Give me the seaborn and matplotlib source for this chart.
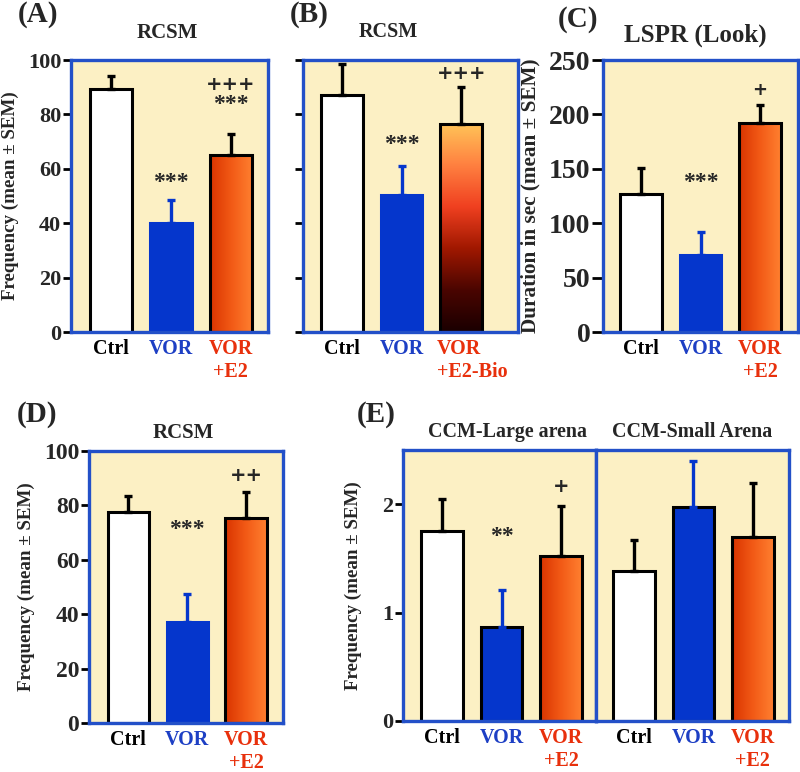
import numpy as np
import pandas as pd
import matplotlib
matplotlib.use("Agg")
import matplotlib.pyplot as plt
import matplotlib.transforms as mtransforms
import seaborn as sns
from matplotlib.colors import LinearSegmentedColormap

# ---------------- data ----------------
groups_e2 = ["Ctrl", "VOR", "VOR\n+E2"]
groups_bio = ["Ctrl", "VOR", "VOR\n+E2-Bio"]

a_mean = [89.5, 40.0, 65.0]
a_sem = [4.5, 8.7, 7.8]
b_mean = [87.0, 50.5, 76.5]
b_sem = [11.5, 10.5, 13.5]
c_mean = [127.0, 71.0, 192.0]
c_sem = [24.0, 21.0, 17.0]
d_mean = [77.4, 37.3, 75.2]
d_sem = [6.0, 10.2, 9.7]
e_large_mean = [1.75, 0.87, 1.52]
e_large_sem = [0.30, 0.34, 0.46]
e_small_mean = [1.38, 1.97, 1.70]
e_small_sem = [0.29, 0.43, 0.50]

ticks_rcsm = [0, 20, 40, 60, 80, 100]
ticks_lspr = [0, 50, 100, 150, 200, 250]
ticks_ccm = [0, 1, 2]

# significance marks: (bar index, y in data units, text)
marks_a = [(1, 55, "***"), (2, 83.5, "***"), (2, 91, "+++")]
marks_b = [(1, 69, "***"), (2, 95, "+++")]
marks_c = [(1, 137, "***"), (2, 222, "+")]
marks_d = [(1, 71, "***"), (2, 91, "++")]
marks_e = [(1, 1.70, "**"), (2, 2.16, "+")]

# ---------------- style ----------------
sns.set_style("white")
plt.rcParams["font.family"] = ["Liberation Serif", "DejaVu Serif"]
plt.rcParams["font.weight"] = "bold"
plt.rcParams["axes.labelweight"] = "bold"

WHITE = "#ffffff"
BLUE = "#0536cc"
ORANGE = "#f05a18"
TXT_BLUE = "#1d3fc4"
TXT_RED = "#e8300c"
SPINE = "#2350c8"
BG = "#fcf0c4"

ORANGE_CMAP = LinearSegmentedColormap.from_list("org", ["#d93400", "#f25a16", "#ff8030"])
BIO_CMAP = LinearSegmentedColormap.from_list(
    "bio", ["#1a0000", "#4a0500", "#a01800", "#f04020", "#ff8040", "#ffc458"])

fig = plt.figure(figsize=(8, 7.72), dpi=100)
W, H = 800, 772


def rect(l, t, r, b):
    return [l / W, 1 - b / H, (r - l) / W, (b - t) / H]


def ftext(x, y, s, **kw):
    fig.text(x / W, 1 - y / H, s, **kw)


def draw(ax, cats, means, sems, ymax, yticks, ylabels, ytick_size,
         vor_edge=False, gradient="h", xlim=(-0.66, 2.62), tick_len=6):
    df = pd.DataFrame({"group": cats, "value": means})
    sns.barplot(data=df, x="group", y="value", hue="group",
                palette=[WHITE, BLUE, ORANGE], legend=False, width=0.7,
                saturation=1, ax=ax, edgecolor="black", linewidth=2.2,
                zorder=2)
    bars = list(ax.patches)
    if not vor_edge:
        bars[1].set_edgecolor(BLUE)
    g = bars[2]
    x0, w, h = g.get_x(), g.get_width(), g.get_height()
    if gradient == "h":
        arr, cmap = np.linspace(0, 1, 256)[None, :], ORANGE_CMAP
    else:
        arr, cmap = np.linspace(0, 1, 256)[:, None], BIO_CMAP
    im = ax.imshow(arr, cmap=cmap, extent=[x0, x0 + w, 0, h], origin="lower",
                   aspect="auto", zorder=1.9, interpolation="bicubic")
    im.set_clip_path(g)
    g.set_facecolor("none")

    err_colors = ["black", BLUE, "black"]
    for i, bar in enumerate(bars):
        cx = bar.get_x() + bar.get_width() / 2
        ax.errorbar([cx], [bar.get_height()], yerr=[[0], [sems[i]]],
                    fmt="none", ecolor=err_colors[i], elinewidth=2.4,
                    capsize=3, capthick=2.4, zorder=3)

    ax.set_xlim(*xlim)
    ax.set_ylim(0, ymax)
    ax.set_facecolor(BG)
    for s in ax.spines.values():
        s.set_visible(True)
        s.set_color(SPINE)
        s.set_linewidth(2.4)
    ax.set_xlabel("")
    ax.set_ylabel("")
    ax.tick_params(axis="x", length=0, pad=5, labelsize=14.5)
    ax.set_yticks(yticks)
    ax.tick_params(axis="y", direction="out", length=tick_len, width=2,
                   color="black", labelsize=ytick_size, pad=1, left=True)
    if not ylabels:
        ax.set_yticklabels([])
    for lbl, c in zip(ax.get_xticklabels(), ["black", TXT_BLUE, TXT_RED]):
        lbl.set_color(c)
        lbl.set_fontweight("bold")
    for lbl in ax.get_yticklabels():
        lbl.set_fontweight("bold")


def marks(ax, items, size_star=17, size_plus=14):
    for i, y, t in items:
        if "*" in t:
            ax.text(i, y, t, ha="center", va="center", fontweight="bold",
                    fontsize=size_star, zorder=4)
        else:
            ax.text(i, y, t, ha="center", va="center", fontweight="bold",
                    fontsize=size_plus, family="DejaVu Sans", zorder=4)


# ---- Panel A ----
axA = fig.add_axes(rect(71, 60, 268, 332))
draw(axA, groups_e2, a_mean, a_sem, 100, ticks_rcsm, True, 16)
marks(axA, marks_a)
axA.set_ylabel("Frequency (mean ± SEM)", fontsize=13.7, fontweight="bold")
axA.yaxis.set_label_coords(-0.265, 0.5)

# ---- Panel B ----
axB = fig.add_axes(rect(303, 60, 518, 332))
draw(axB, groups_bio, b_mean, b_sem, 100, ticks_rcsm, False, 16,
     gradient="v", xlim=(-0.65, 2.95))
marks(axB, marks_b)
lblB = axB.get_xticklabels()[2]
lblB.set_horizontalalignment("left")
lblB.set_multialignment("left")
lblB.set_transform(lblB.get_transform() +
                   mtransforms.ScaledTranslation(-0.24, 0, fig.dpi_scale_trans))

# ---- Panel C ----
axC = fig.add_axes(rect(603, 60, 798, 332))
draw(axC, groups_e2, c_mean, c_sem, 250, ticks_lspr, True, 20,
     xlim=(-0.64, 2.64), tick_len=8)
marks(axC, marks_c, size_plus=13)
axC.set_ylabel("Duration in sec (mean ± SEM)", fontsize=15.3, fontweight="bold")
axC.yaxis.set_label_coords(-0.32, 0.5)

# ---- Panel D ----
axD = fig.add_axes(rect(89, 451, 283, 723))
draw(axD, groups_e2, d_mean, d_sem, 100, ticks_rcsm, True, 17,
     xlim=(-0.67, 2.63))
marks(axD, marks_d)
axD.set_ylabel("Frequency (mean ± SEM)", fontsize=13.7, fontweight="bold")
axD.yaxis.set_label_coords(-0.28, 0.5)

# ---- Panel E ----
axE1 = fig.add_axes(rect(403, 450, 596, 721))
draw(axE1, groups_e2, e_large_mean, e_large_sem, 2.5, ticks_ccm, True, 16,
     vor_edge=True, xlim=(-0.66, 2.59))
marks(axE1, marks_e, size_plus=14)
axE1.set_ylabel("Frequency (mean ± SEM)", fontsize=13.7, fontweight="bold")
axE1.yaxis.set_label_coords(-0.21, 0.5)

axE2 = fig.add_axes(rect(596, 450, 789, 721))
draw(axE2, groups_e2, e_small_mean, e_small_sem, 2.5, ticks_ccm, False, 16,
     vor_edge=True, xlim=(-0.64, 2.61))
axE2.tick_params(axis="y", length=0)

# ---- titles & panel letters ----
ftext(167, 38, "RCSM", ha="center", va="baseline", fontsize=15, fontweight="bold")
ftext(388, 37, "RCSM", ha="center", va="baseline", fontsize=14.5, fontweight="bold")
ftext(695, 42, "LSPR (Look)", ha="center", va="baseline", fontsize=18, fontweight="bold")
ftext(183, 438, "RCSM", ha="center", va="baseline", fontsize=15, fontweight="bold")
ftext(508, 437, "CCM-Large arena", ha="center", va="baseline", fontsize=14.4, fontweight="bold")
ftext(692, 437, "CCM-Small Arena", ha="center", va="baseline", fontsize=14.4, fontweight="bold")

ftext(18, 22, "(A)", ha="left", va="baseline", fontsize=21, fontweight="bold")
ftext(290, 22, "(B)", ha="left", va="baseline", fontsize=21, fontweight="bold")
ftext(558, 27, "(C)", ha="left", va="baseline", fontsize=21, fontweight="bold")
ftext(17, 422, "(D)", ha="left", va="baseline", fontsize=21, fontweight="bold")
ftext(357, 422, "(E)", ha="left", va="baseline", fontsize=21, fontweight="bold")

fig.savefig("out.png", dpi=100)
